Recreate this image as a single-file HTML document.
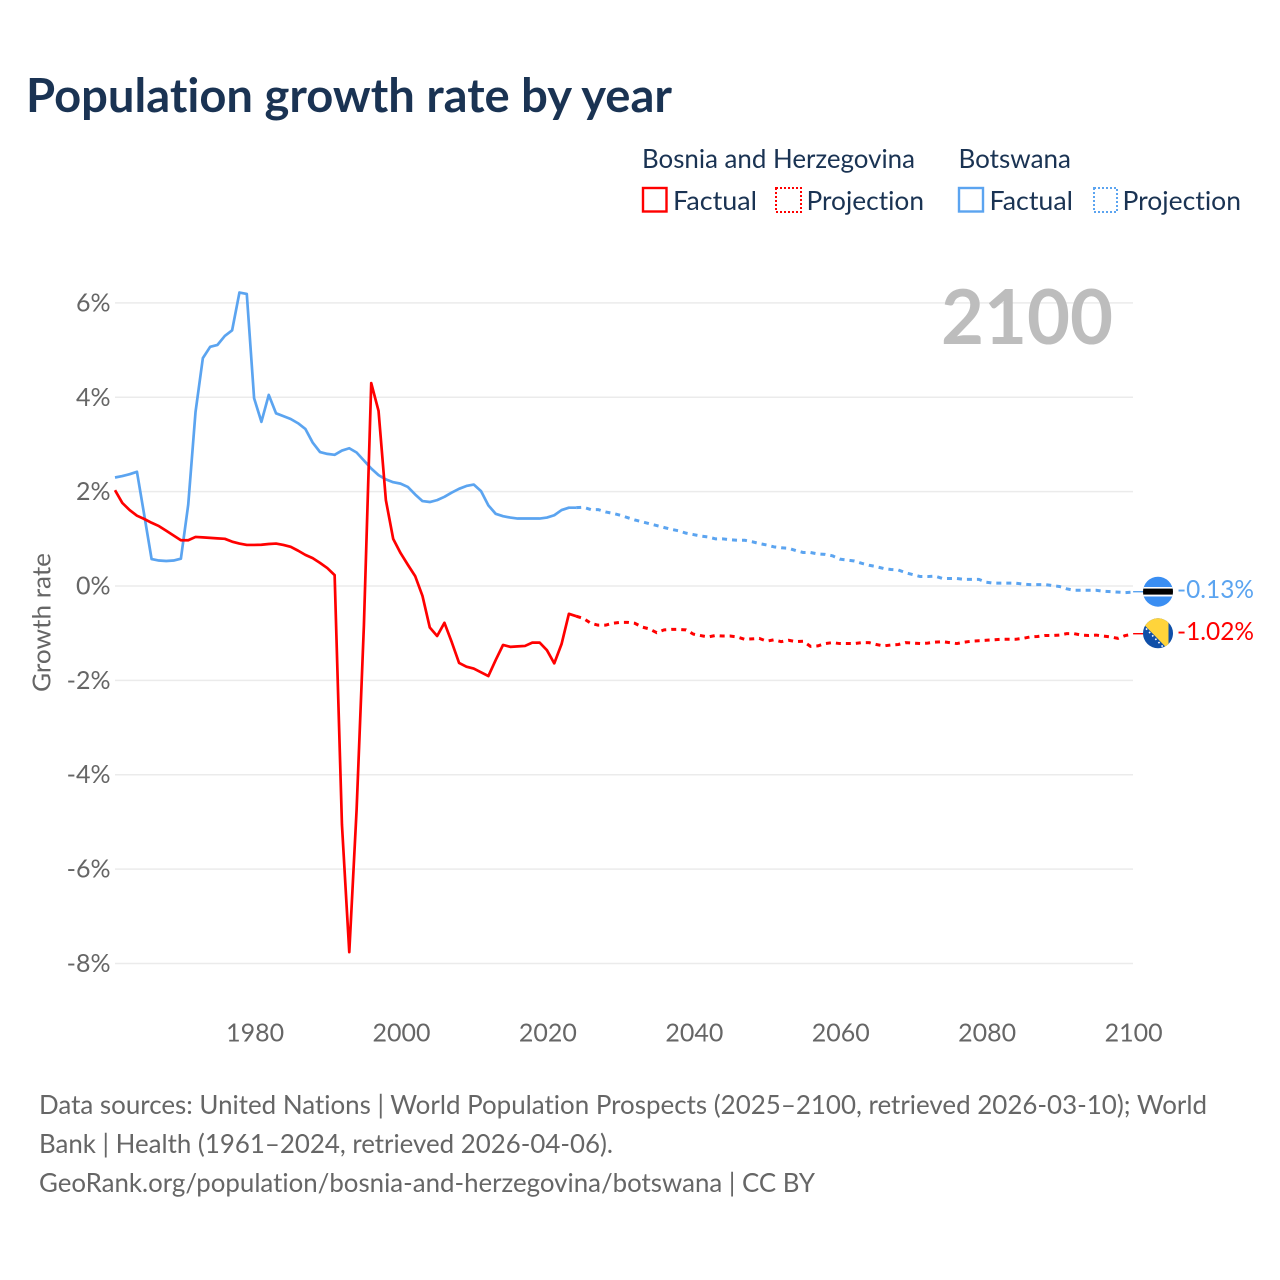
<!DOCTYPE html>
<html lang="en">
<head>
<meta charset="utf-8">
<title>Population growth rate by year</title>
<style>
html,body{margin:0;padding:0;background:#fff;width:1280px;height:1280px;overflow:hidden}
svg{display:block}
text{font-family:"Lato","Carlito","Liberation Sans",sans-serif;font-variant-ligatures:none}
.navy{fill:#1a3353}
.grey{fill:#666}
</style>
</head>
<body>
<svg id="chart" width="1280" height="1280" viewBox="0 0 1280 1280" xmlns="http://www.w3.org/2000/svg">
  <rect width="1280" height="1280" fill="#fff"/>
  <text class="navy" x="26" y="112" font-size="46.5" font-weight="700" textLength="646" lengthAdjust="spacingAndGlyphs">Population growth rate by year</text>

  <g font-size="26" class="navy">
    <text x="642" y="168" textLength="273" lengthAdjust="spacingAndGlyphs">Bosnia and Herzegovina</text>
    <text x="958.5" y="168" textLength="112.5" lengthAdjust="spacingAndGlyphs">Botswana</text>
    <rect x="643" y="188" width="23.5" height="23.5" fill="none" stroke="#ff0000" stroke-width="2.4"/>
    <text x="673" y="210" textLength="84" lengthAdjust="spacingAndGlyphs">Factual</text>
    <rect x="776" y="188" width="25" height="24" fill="none" stroke="#ff0000" stroke-width="2" stroke-dasharray="2 2"/>
    <text x="806.5" y="210" textLength="117.5" lengthAdjust="spacingAndGlyphs">Projection</text>
    <rect x="959" y="188" width="24" height="23.5" fill="none" stroke="#5ba4f0" stroke-width="2.4"/>
    <text x="989.5" y="210" textLength="83.5" lengthAdjust="spacingAndGlyphs">Factual</text>
    <rect x="1094" y="188" width="23" height="24" fill="none" stroke="#5ba4f0" stroke-width="2" stroke-dasharray="2 2"/>
    <text x="1122.5" y="210" textLength="118.5" lengthAdjust="spacingAndGlyphs">Projection</text>
  </g>

  <g id="grid"></g>
  <g id="yticks"></g>
  <g id="xticks"></g>
  <text class="grey" font-size="25" text-anchor="middle" transform="translate(50.5 622.5) rotate(-90)" textLength="139" lengthAdjust="spacingAndGlyphs">Growth rate</text>
  <text x="1113" y="344" text-anchor="end" font-size="76" font-weight="700" fill="#bdbdbd" textLength="172" lengthAdjust="spacingAndGlyphs">2100</text>
  <g id="series"></g>

  <defs>
    <clipPath id="flag-clip-bw"><circle cx="1158" cy="591.7" r="15"/></clipPath>
    <clipPath id="flag-clip-ba"><circle cx="1158" cy="633.3" r="15"/></clipPath>
  </defs>
  <g id="flag-botswana" clip-path="url(#flag-clip-bw)">
    <rect x="1143" y="576" width="30" height="31" fill="#3a8ef2"/>
    <rect x="1143" y="587" width="30" height="9.5" fill="#fff"/>
    <rect x="1143" y="588.6" width="30" height="6" fill="#000"/>
  </g>
  <g id="flag-bosnia" clip-path="url(#flag-clip-ba)">
    <rect x="1143" y="618" width="30" height="31" fill="#0f4fa8"/>
    <polygon points="1143,623.6 1143,618 1168.5,618 1168.5,649.8" fill="#ffd43b"/>
    <line x1="1146" y1="628.5" x2="1163" y2="647" stroke="#fff" stroke-width="1.6" stroke-dasharray="1.6 3"/>
  </g>
  <text id="end-label-botswana" x="1177" y="598" font-size="25.5" fill="#5ba4f0" textLength="77" lengthAdjust="spacingAndGlyphs"></text>
  <text id="end-label-bosnia" x="1177" y="640" font-size="25.5" fill="#ff0000" textLength="77" lengthAdjust="spacingAndGlyphs"></text>

  <g class="grey" font-size="26">
    <text x="39" y="1114" textLength="1168" lengthAdjust="spacingAndGlyphs">Data sources: United Nations | World Population Prospects (2025–2100, retrieved 2026-03-10); World</text>
    <text x="39" y="1153" textLength="574" lengthAdjust="spacingAndGlyphs">Bank | Health (1961–2024, retrieved 2026-04-06).</text>
    <text x="39" y="1192" textLength="776" lengthAdjust="spacingAndGlyphs">GeoRank.org/population/bosnia-and-herzegovina/botswana | CC BY</text>
  </g>
</svg>
<script>
const yTickValues = [6, 4, 2, 0, -2, -4, -6, -8];
const xTickYears = [1980, 2000, 2020, 2040, 2060, 2080, 2100];
const factualStartYear = 1961;
const projectionStartYear = 2024;
const bosniaFactual = [2.03,1.76,1.61,1.49,1.42,1.34,1.27,1.17,1.07,0.97,0.97,1.04,1.03,1.02,1.01,1.00,0.94,0.90,0.87,0.87,0.875,0.89,0.90,0.87,0.83,0.75,0.66,0.59,0.49,0.38,0.23,-5.06,-7.76,-4.75,-0.83,4.30,3.71,1.82,1.00,0.70,0.45,0.21,-0.21,-0.88,-1.06,-0.78,-1.19,-1.63,-1.71,-1.75,-1.83,-1.91,-1.57,-1.25,-1.29,-1.28,-1.27,-1.20,-1.20,-1.36,-1.64,-1.23,-0.59,-0.64];
const bosniaProjection = [-0.64,-0.69,-0.79,-0.83,-0.83,-0.79,-0.77,-0.77,-0.79,-0.87,-0.91,-0.99,-0.93,-0.92,-0.92,-0.93,-1.02,-1.05,-1.08,-1.05,-1.06,-1.06,-1.08,-1.13,-1.12,-1.11,-1.17,-1.14,-1.18,-1.15,-1.18,-1.17,-1.28,-1.27,-1.22,-1.20,-1.22,-1.22,-1.22,-1.20,-1.20,-1.24,-1.27,-1.25,-1.24,-1.20,-1.21,-1.22,-1.21,-1.19,-1.18,-1.20,-1.22,-1.19,-1.17,-1.16,-1.15,-1.14,-1.13,-1.13,-1.13,-1.11,-1.08,-1.07,-1.05,-1.05,-1.04,-1.01,-1.01,-1.04,-1.05,-1.04,-1.06,-1.08,-1.11,-1.05,-1.02];
const botswanaFactual = [2.30,2.33,2.37,2.42,1.50,0.57,0.54,0.53,0.54,0.58,1.72,3.69,4.83,5.07,5.11,5.30,5.42,6.22,6.19,3.98,3.48,4.05,3.66,3.60,3.54,3.45,3.33,3.04,2.84,2.80,2.78,2.87,2.92,2.83,2.66,2.49,2.35,2.26,2.20,2.17,2.10,1.94,1.80,1.78,1.82,1.89,1.98,2.06,2.12,2.15,2.01,1.71,1.53,1.48,1.45,1.43,1.43,1.43,1.43,1.45,1.50,1.61,1.66,1.66];
const botswanaProjection = [1.66,1.67,1.62,1.62,1.57,1.54,1.50,1.45,1.40,1.36,1.32,1.28,1.24,1.20,1.17,1.12,1.09,1.06,1.04,1.00,1.00,0.98,0.97,0.97,0.94,0.90,0.87,0.83,0.81,0.80,0.75,0.71,0.71,0.68,0.67,0.64,0.57,0.55,0.53,0.48,0.44,0.41,0.37,0.35,0.34,0.28,0.24,0.20,0.20,0.21,0.16,0.16,0.16,0.14,0.14,0.14,0.08,0.06,0.06,0.06,0.06,0.04,0.03,0.03,0.03,0.01,-0.01,-0.06,-0.09,-0.09,-0.09,-0.09,-0.11,-0.12,-0.13,-0.14,-0.13];
const endLabelBosnia = "-1.02%";
const endLabelBotswana = "-0.13%";

const NS = "http://www.w3.org/2000/svg";
const X_LEFT = 115, X_RIGHT = 1132.6, YEAR_MIN = 1961, YEAR_MAX = 2100;
const Y_ZERO = 586, PX_PER_UNIT = 47.18;
const RED = "#ff0000", BLUE = "#5ba4f0";

function xScale(year) {
  return X_LEFT + (year - YEAR_MIN) * (X_RIGHT - X_LEFT) / (YEAR_MAX - YEAR_MIN);
}
function yScale(value) {
  return Y_ZERO - value * PX_PER_UNIT;
}
function pointsFor(values, startYear) {
  return values.map(function (v, i) {
    return xScale(startYear + i).toFixed(2) + "," + yScale(v).toFixed(2);
  }).join(" ");
}
function drawLine(values, startYear, color, dashed) {
  const line = document.createElementNS(NS, "polyline");
  line.setAttribute("points", pointsFor(values, startYear));
  line.setAttribute("fill", "none");
  line.setAttribute("stroke", color);
  line.setAttribute("stroke-width", dashed ? "3" : "2.7");
  line.setAttribute("stroke-linejoin", "round");
  if (dashed) line.setAttribute("stroke-dasharray", "5 5");
  document.getElementById("series").appendChild(line);
  return line;
}
function drawConnector(value, flagY, color) {
  const c = document.createElementNS(NS, "line");
  c.setAttribute("x1", xScale(YEAR_MAX) + 0.5);
  c.setAttribute("y1", flagY);
  c.setAttribute("x2", 1143);
  c.setAttribute("y2", flagY);
  c.setAttribute("stroke", color);
  c.setAttribute("stroke-width", "1.4");
  document.getElementById("series").appendChild(c);
  return c;
}

yTickValues.forEach(function (v) {
  const g = document.createElementNS(NS, "line");
  
  
  g.setAttribute("x1", 115);
  g.setAttribute("x2", 1133);
  g.setAttribute("y1", yScale(v));
  g.setAttribute("y2", yScale(v));
  g.setAttribute("stroke", "#ebebeb");
  g.setAttribute("stroke-width", "1.5");
  document.getElementById("grid").appendChild(g);

  const t = document.createElementNS(NS, "text");
  
  
  t.setAttribute("x", 110.5);
  t.setAttribute("y", yScale(v) + 8.5);
  t.setAttribute("text-anchor", "end");
  t.setAttribute("font-size", "25");
  t.setAttribute("class", "grey");
  t.textContent = v + "%";
  document.getElementById("yticks").appendChild(t);
});

xTickYears.forEach(function (year) {
  const t = document.createElementNS(NS, "text");
  
  
  t.setAttribute("x", xScale(year) + 1);
  t.setAttribute("y", 1041.5);
  t.setAttribute("text-anchor", "middle");
  t.setAttribute("font-size", "25");
  t.setAttribute("class", "grey");
  t.setAttribute("textLength", "58");
  t.setAttribute("lengthAdjust", "spacingAndGlyphs");
  t.textContent = year;
  document.getElementById("xticks").appendChild(t);
});

const botswanaFactualLine = drawLine(botswanaFactual, factualStartYear, BLUE, false);


const botswanaProjectionLine = drawLine(botswanaProjection, projectionStartYear, BLUE, true);


const bosniaFactualLine = drawLine(bosniaFactual, factualStartYear, RED, false);


const bosniaProjectionLine = drawLine(bosniaProjection, projectionStartYear, RED, true);



const botswanaConnector = drawConnector(botswanaProjection[botswanaProjection.length - 1], 591.7, BLUE);


const bosniaConnector = drawConnector(bosniaProjection[bosniaProjection.length - 1], 633.7, RED);



document.getElementById("end-label-bosnia").textContent = endLabelBosnia;
document.getElementById("end-label-botswana").textContent = endLabelBotswana;
</script>
</body>
</html>
